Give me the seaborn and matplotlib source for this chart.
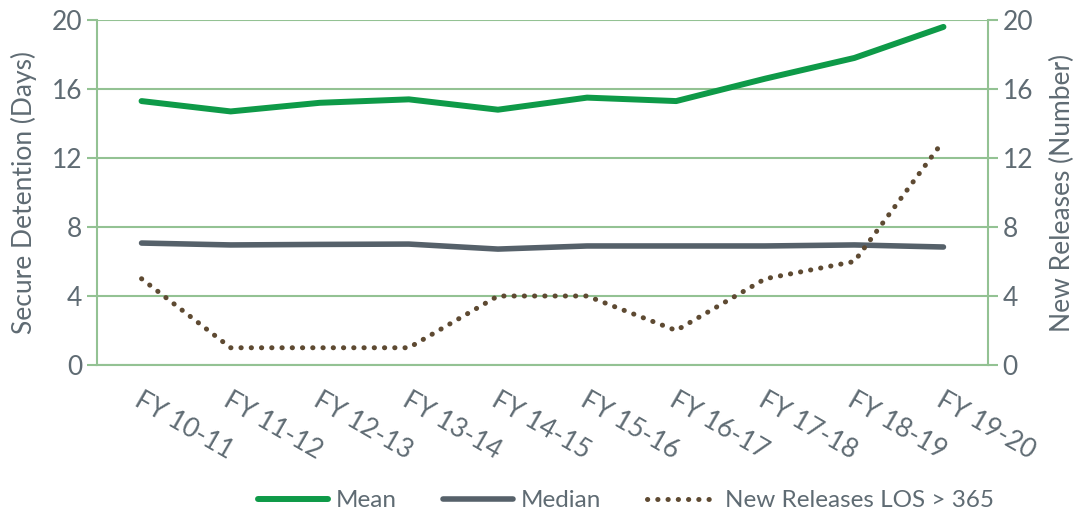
import matplotlib
matplotlib.use('Agg')
import matplotlib.pyplot as plt
import pandas as pd
import seaborn as sns

# Data
years = ['FY 10-11', 'FY 11-12', 'FY 12-13', 'FY 13-14', 'FY 14-15',
         'FY 15-16', 'FY 16-17', 'FY 17-18', 'FY 18-19', 'FY 19-20']
mean_days = [15.3, 14.7, 15.2, 15.4, 14.8, 15.5, 15.3, 16.6, 17.8, 19.6]
median_days = [7.07, 6.96, 6.99, 7.01, 6.72, 6.9, 6.9, 6.9, 6.96, 6.84]
new_releases = [5, 1, 1, 1, 4, 4, 2, 5, 6, 13]

sns.set_style('white')
plt.rcParams['font.family'] = ['Lato', 'DejaVu Sans']

grid_c = '#93C293'
text_c = '#5F6B73'
mean_c = '#0E9A48'
median_c = '#56616A'
dot_c = '#5E4A32'

df = pd.DataFrame({'pos': range(len(years)), 'Mean': mean_days,
                   'Median': median_days, 'New': new_releases})

fig = plt.figure(figsize=(10.81, 5.16), dpi=100)
ax = fig.add_axes([97 / 1081, 1 - 365 / 516, (988 - 97) / 1081, 345 / 516])
ax2 = ax.twinx()

sns.lineplot(data=df, x='pos', y='Mean', ax=ax, color=mean_c, linewidth=4.3,
             label='Mean', legend=False, solid_capstyle='round')
sns.lineplot(data=df, x='pos', y='Median', ax=ax, color=median_c, linewidth=4.0,
             label='Median', legend=False, solid_capstyle='round')
sns.lineplot(data=df, x='pos', y='New', ax=ax2, color=dot_c, linewidth=3.6,
             linestyle=(0, (0.05, 2.0)), dash_capstyle='round',
             label='New Releases LOS > 365', legend=False)

for a in (ax, ax2):
    a.set_ylim(0, 20)
    a.set_yticks(range(0, 21, 4))
    a.set_xlim(-0.5, len(years) - 0.5)
    for s in a.spines.values():
        s.set_visible(False)
    a.tick_params(axis='y', colors=grid_c, labelcolor=text_c, labelsize=19,
                  length=7, width=1.5)

ax.yaxis.grid(True, color=grid_c, linewidth=1.5)
ax.set_axisbelow(True)
ax.spines['left'].set_visible(True)
ax.spines['bottom'].set_visible(True)
ax2.spines['right'].set_visible(True)
for s in (ax.spines['left'], ax.spines['bottom'], ax2.spines['right']):
    s.set_color(grid_c)
    s.set_linewidth(1.5)

# ticks between categories, labels at category centres
ax.set_xticks([i - 0.5 for i in range(len(years) + 1)], minor=False)
ax.set_xticklabels([])
ax.tick_params(axis='x', colors=grid_c, length=8, width=1.5, direction='out')
for i, lab in enumerate(years):
    ax.text(i + 0.02, -1.3, lab, rotation=-30, rotation_mode='anchor',
            ha='left', va='top', fontsize=19, color=text_c,
            transform=ax.transData)
ax2.set_xticks([])

ax.set_xlabel('')
ax.set_ylabel('Secure Detention (Days)', fontsize=19, color=text_c, labelpad=11)
ax2.set_ylabel('New Releases (Number)', fontsize=19, color=text_c, labelpad=12)

h1, l1 = ax.get_legend_handles_labels()
h2, l2 = ax2.get_legend_handles_labels()
fig.legend(h1 + h2, l1 + l2, loc='center', bbox_to_anchor=(0.579, 0.03),
           ncol=3, frameon=False, fontsize=17.5, labelcolor=text_c,
           handlelength=2.9, handletextpad=0.3, columnspacing=1.9)

fig.savefig('out.png', dpi=100)
